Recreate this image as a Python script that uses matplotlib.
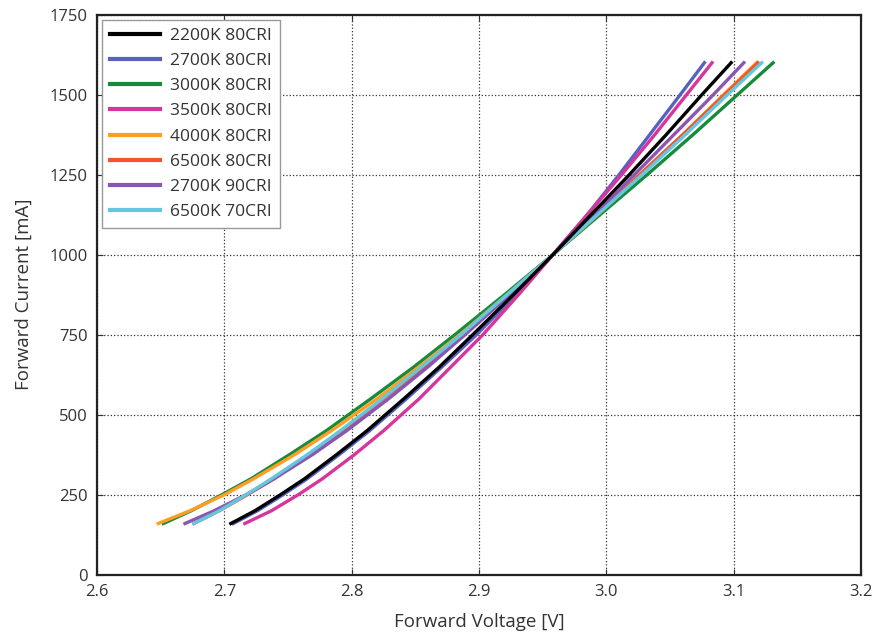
import numpy as np
import matplotlib
matplotlib.use('Agg')
import matplotlib.pyplot as plt

plt.rcParams['font.family'] = ['Open Sans', 'DejaVu Sans']

current = [160, 200, 250, 300, 375, 450, 550, 650, 750, 875, 1000, 1125, 1250, 1375, 1500, 1600]

v_2200k_80 = [2.705, 2.724, 2.744, 2.763, 2.788, 2.812, 2.841, 2.869, 2.895, 2.927, 2.958, 2.988, 3.018, 3.047, 3.075, 3.098]
v_2700k_80 = [2.707, 2.726, 2.746, 2.765, 2.790, 2.814, 2.843, 2.871, 2.898, 2.929, 2.958, 2.985, 3.010, 3.034, 3.058, 3.077]
v_3000k_80 = [2.652, 2.674, 2.698, 2.721, 2.751, 2.780, 2.815, 2.849, 2.881, 2.920, 2.958, 2.995, 3.032, 3.068, 3.103, 3.131]
v_3500k_80 = [2.716, 2.737, 2.758, 2.777, 2.802, 2.825, 2.853, 2.878, 2.903, 2.931, 2.958, 2.985, 3.012, 3.038, 3.063, 3.083]
v_4000k_80 = [2.648, 2.673, 2.700, 2.723, 2.755, 2.784, 2.820, 2.853, 2.885, 2.922, 2.958, 2.993, 3.027, 3.060, 3.092, 3.118]
v_6500k_80 = [2.676, 2.696, 2.718, 2.739, 2.767, 2.793, 2.825, 2.857, 2.887, 2.923, 2.958, 2.993, 3.026, 3.060, 3.093, 3.119]
v_2700k_90 = [2.669, 2.692, 2.717, 2.739, 2.769, 2.796, 2.829, 2.860, 2.889, 2.924, 2.958, 2.991, 3.022, 3.053, 3.084, 3.108]
v_6500k_70 = [2.676, 2.696, 2.717, 2.737, 2.765, 2.791, 2.824, 2.855, 2.886, 2.922, 2.958, 2.993, 3.028, 3.062, 3.095, 3.122]

labels = ['2200K 80CRI', '2700K 80CRI', '3000K 80CRI', '3500K 80CRI',
          '4000K 80CRI', '6500K 80CRI', '2700K 90CRI', '6500K 70CRI']
colors = ['#000000', '#5761c2', '#178a3c', '#d6369c',
          '#ff9e22', '#f5532c', '#8b55b2', '#63c8dd']
series = [v_2200k_80, v_2700k_80, v_3000k_80, v_3500k_80,
          v_4000k_80, v_6500k_80, v_2700k_90, v_6500k_70]

fig = plt.figure(figsize=(8.75, 6.4), dpi=100)
ax = fig.add_axes([0.111, 0.102, 0.873, 0.875])

for v, lab, c in zip(series, labels, colors):
    # black is drawn over the blue one at low currents, as in the reference
    z = 3 if lab == '2200K 80CRI' else 2
    ax.plot(v, current, color=c, lw=2.4, label=lab, solid_joinstyle='round', zorder=z)

ax.set_xlim(2.6, 3.2)
ax.set_ylim(0, 1750)
ax.set_xticks(np.arange(2.6, 3.21, 0.1))
ax.set_xticklabels(['2.6', '2.7', '2.8', '2.9', '3.0', '3.1', '3.2'])
ax.set_yticks(np.arange(0, 1751, 250))
ax.grid(True, color='black', linestyle=':', linewidth=0.9, alpha=0.8)
ax.tick_params(direction='in', top=True, right=True, length=4, labelsize=12,
               colors='#333333', pad=7)
for s in ax.spines.values():
    s.set_linewidth(1.6)
    s.set_color('#222222')

ax.set_xlabel('Forward Voltage [V]', fontsize=13.5, color='#333333', labelpad=9)
ax.set_ylabel('Forward Current [mA]', fontsize=13.5, color='#333333', labelpad=12)

leg = ax.legend(loc='upper left', fontsize=12.5, handlelength=2.85, labelspacing=0.52,
                fancybox=False, edgecolor='#999999', framealpha=1,
                borderaxespad=0.3, handletextpad=0.6, borderpad=0.45)
leg.set_zorder(5)
leg.get_frame().set_linewidth(1.0)
for line in leg.get_lines():
    line.set_linewidth(3)
for t in leg.get_texts():
    t.set_color('#333333')

fig.savefig('out.png', dpi=100)
